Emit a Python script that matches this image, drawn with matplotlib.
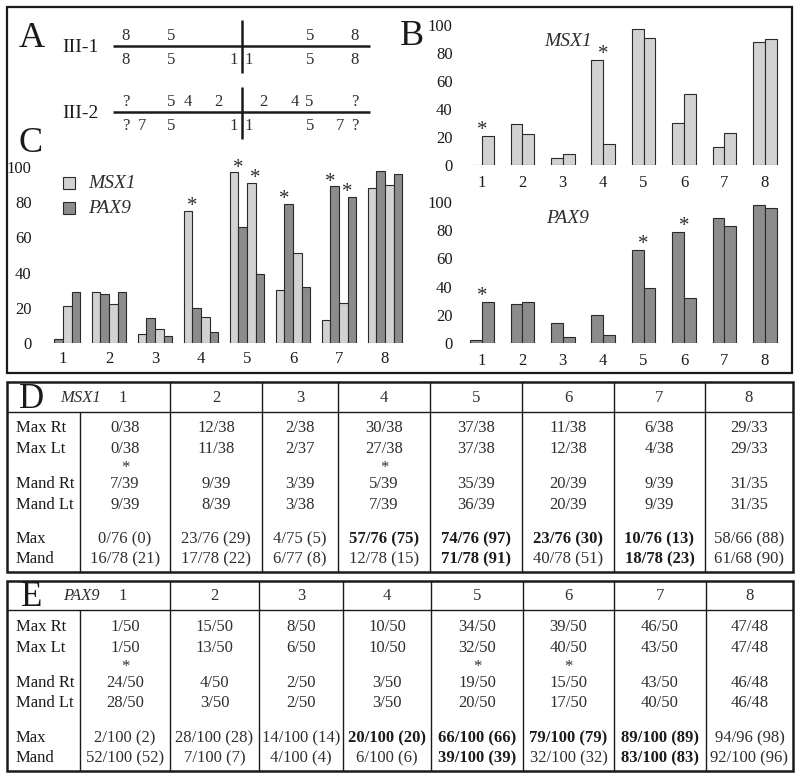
import matplotlib
matplotlib.use('Agg')
import matplotlib.pyplot as plt
from matplotlib.patches import Rectangle
import numpy as np

plt.rcParams['font.family'] = ['Liberation Serif', 'DejaVu Serif']

W, H = 800, 778

# ---------------- data ----------------
tooth_labels = ['1', '2', '3', '4', '5', '6', '7', '8']

msx1_max_pct = [0, 29, 5, 75, 97, 30, 13, 88]
msx1_mand_pct = [21, 22, 8, 15, 91, 51, 23, 90]
pax9_max_pct = [2, 28, 14, 20, 66, 79, 89, 98]
pax9_mand_pct = [29, 29, 4, 6, 39, 32, 83, 96]

c_star_pairs = [(4, 'max'), (5, 'max'), (5, 'mand'), (6, 'max'), (7, 'max'), (7, 'mand')]
b_msx1_stars = [1, 4]
b_pax9_stars = [1, 5, 6]

y_ticks = [0, 20, 40, 60, 80, 100]

# Panel A dental charts (label, upper-row entries, lower-row entries)
a_iii1_top = [('8', 126), ('5', 171), ('5', 310), ('8', 355)]
a_iii1_bot = [('8', 126), ('5', 171), ('1', 234), ('1', 249), ('5', 310), ('8', 355)]
a_iii2_top = [('?', 126), ('5', 171), ('4', 188), ('2', 218), ('2', 263), ('4', 295), ('5', 309), ('?', 355)]
a_iii2_bot = [('?', 126), ('7', 142), ('5', 171), ('1', 234), ('1', 249), ('5', 310), ('7', 340), ('?', 355)]

row_names = ['Max Rt', 'Max Lt', 'Mand Rt', 'Mand Lt', 'Max', 'Mand']

msx1_max_rt = ['0/38', '12/38', '2/38', '30/38', '37/38', '11/38', '6/38', '29/33']
msx1_max_lt = ['0/38', '11/38', '2/37', '27/38', '37/38', '12/38', '4/38', '29/33']
msx1_mand_rt = ['7/39', '9/39', '3/39', '5/39', '35/39', '20/39', '9/39', '31/35']
msx1_mand_lt = ['9/39', '8/39', '3/38', '7/39', '36/39', '20/39', '9/39', '31/35']
msx1_max = ['0/76 (0)', '23/76 (29)', '4/75 (5)', '57/76 (75)', '74/76 (97)', '23/76 (30)', '10/76 (13)', '58/66 (88)']
msx1_mand = ['16/78 (21)', '17/78 (22)', '6/77 (8)', '12/78 (15)', '71/78 (91)', '40/78 (51)', '18/78 (23)', '61/68 (90)']
msx1_bold_max = [4, 5, 6, 7]
msx1_bold_mand = [5, 7]
msx1_star_cols = [1, 4]

pax9_max_rt = ['1/50', '15/50', '8/50', '10/50', '34/50', '39/50', '46/50', '47/48']
pax9_max_lt = ['1/50', '13/50', '6/50', '10/50', '32/50', '40/50', '43/50', '47/48']
pax9_mand_rt = ['24/50', '4/50', '2/50', '3/50', '19/50', '15/50', '43/50', '46/48']
pax9_mand_lt = ['28/50', '3/50', '2/50', '3/50', '20/50', '17/50', '40/50', '46/48']
pax9_max = ['2/100 (2)', '28/100 (28)', '14/100 (14)', '20/100 (20)', '66/100 (66)', '79/100 (79)', '89/100 (89)', '94/96 (98)']
pax9_mand = ['52/100 (52)', '7/100 (7)', '4/100 (4)', '6/100 (6)', '39/100 (39)', '32/100 (32)', '83/100 (83)', '92/100 (96)']
pax9_bold_max = [4, 5, 6, 7]
pax9_bold_mand = [5, 7]
pax9_star_cols = [1, 5, 6]

LIGHT = '#d2d2d2'
DARK = '#8c8c8c'
EDGE = '#2a2a2a'
INK = '#1a1a1a'
TXT = '#2e2e2e'

fig = plt.figure(figsize=(W / 100, H / 100), dpi=100)
fig.patch.set_facecolor('white')

# overlay axes in pixel coordinates
ax0 = fig.add_axes([0, 0, 1, 1])
ax0.set_xlim(0, W)
ax0.set_ylim(H, 0)
ax0.axis('off')
ax0.patch.set_alpha(0)


def px_axes(x0, y0, x1, y1):
    a = fig.add_axes([x0 / W, 1 - y1 / H, (x1 - x0) / W, (y1 - y0) / H])
    a.patch.set_alpha(0)
    for s in a.spines.values():
        s.set_visible(False)
    return a


def hline(x0, x1, y, lw=1.0):
    ax0.plot([x0, x1], [y, y], color=INK, lw=lw, solid_capstyle='butt')


def vline(x, y0, y1, lw=1.0):
    ax0.plot([x, x], [y0, y1], color=INK, lw=lw, solid_capstyle='butt')


# ---------------- outer frame (A, B, C) ----------------
ax0.add_patch(Rectangle((7, 7), 785, 366, fill=False, ec=INK, lw=1.6))

# ---------------- Panel A ----------------
ax0.text(32, 38, 'A', fontsize=26, ha='center', va='center', color=INK)
for name, yl, top, bot, vy0, vy1 in [('III-1', 46, a_iii1_top, a_iii1_bot, 20, 73),
                                     ('III-2', 112, a_iii2_top, a_iii2_bot, 87, 139)]:
    ax0.text(80, yl + 1, name, fontsize=14, ha='center', va='center', color=INK)
    hline(113, 370, yl, lw=1.8)
    vline(242, vy0, vy1, lw=1.8)
    for t, x in top:
        ax0.text(x, yl - 10, t, fontsize=12, ha='center', va='center', color=TXT)
    for t, x in bot:
        ax0.text(x, yl + 14, t, fontsize=12, ha='center', va='center', color=TXT)

ax0.text(412, 36, 'B', fontsize=26, ha='center', va='center', color=INK)
ax0.text(31, 143, 'C', fontsize=26, ha='center', va='center', color=INK)

# ---------------- Panel C ----------------
axC = px_axes(40, 167, 410, 343)
xc = np.arange(len(tooth_labels))
wc = 0.185
series_c = [(msx1_max_pct, LIGHT, -1.5), (pax9_max_pct, DARK, -0.5),
            (msx1_mand_pct, LIGHT, 0.5), (pax9_mand_pct, DARK, 1.5)]
for vals, col, off in series_c:
    axC.bar(xc + off * wc, vals, width=wc, color=col, edgecolor=EDGE, linewidth=0.8)
for tooth, pair in c_star_pairs:
    i = tooth - 1
    if pair == 'max':
        xs, top = i - wc, max(msx1_max_pct[i], pax9_max_pct[i])
    else:
        xs, top = i + wc, max(msx1_mand_pct[i], pax9_mand_pct[i])
    axC.text(xs, top - 3, '*', fontsize=15, ha='center', va='bottom', color=TXT, clip_on=False)
axC.set_xlim((40 - 63) / 46, (410 - 63) / 46)
axC.set_ylim(0, 100)
axC.set_xticks(xc, tooth_labels)
axC.set_yticks(y_ticks)
axC.tick_params(axis='both', length=0, labelsize=12, colors=INK)
axC.tick_params(axis='y', pad=6)
axC.tick_params(axis='x', pad=6)

# legend of C
ax0.add_patch(Rectangle((63, 177), 12, 12, fc=LIGHT, ec=EDGE, lw=0.8))
ax0.add_patch(Rectangle((63, 202), 12, 12, fc=DARK, ec=EDGE, lw=0.8))
ax0.text(88, 183, 'MSX1', fontsize=14, style='italic', ha='left', va='center', color=TXT)
ax0.text(88, 208, 'PAX9', fontsize=14, style='italic', ha='left', va='center', color=TXT)

# ---------------- Panel B ----------------
wb = 0.29
for (y0, y1, v1, v2, col, stars, title) in [
        (25, 165, msx1_max_pct, msx1_mand_pct, LIGHT, b_msx1_stars, 'MSX1'),
        (202, 343, pax9_max_pct, pax9_mand_pct, DARK, b_pax9_stars, 'PAX9')]:
    axb = px_axes(465, y0, 790, y1)
    axb.bar(xc - wb / 2, v1, width=wb, color=col, edgecolor=EDGE, linewidth=0.8)
    axb.bar(xc + wb / 2, v2, width=wb, color=col, edgecolor=EDGE, linewidth=0.8)
    for tooth in stars:
        i = tooth - 1
        axb.text(i, max(v1[i], v2[i]) - 3, '*', fontsize=15, ha='center', va='bottom',
                 color=TXT, clip_on=False)
    axb.set_xlim((465 - 482) / 40.4, (790 - 482) / 40.4)
    axb.set_ylim(0, 100)
    axb.set_xticks(xc, tooth_labels)
    axb.set_yticks(y_ticks)
    axb.tick_params(axis='both', length=0, labelsize=12, colors=INK)
    axb.tick_params(axis='y', pad=9)
    axb.tick_params(axis='x', pad=7)
    axb.text(2.12, 88, title, fontsize=14, style='italic', ha='center', va='center', color=TXT)


# ---------------- Tables D and E ----------------
def draw_table(top, bottom, header_y, col_edges, letter, gene, rows, bold_max, bold_mand,
               star_cols, row_ys, star_y):
    ax0.add_patch(Rectangle((7, top), 786, bottom - top, fill=False, ec=INK, lw=1.8))
    hline(7, 793, header_y, lw=1.0)
    for xe in col_edges[1:-1]:
        vline(xe, top, bottom, lw=1.0)
    vline(col_edges[0], header_y, bottom, lw=1.0)
    hy = (top + header_y) / 2 + 1
    ax0.text(32, hy + 1, letter, fontsize=25, ha='center', va='center', color=INK)
    ax0.text(81, hy, gene, fontsize=12, style='italic', ha='center', va='center', color=TXT)
    centers = [(col_edges[j] + col_edges[j + 1]) / 2 for j in range(len(col_edges) - 1)]
    for j, c in enumerate(centers):
        ax0.text(c - (2 if j == 0 else 0), hy, tooth_labels[j], fontsize=12, ha='center',
                 va='center', color=TXT)
    for r, (name, vals) in enumerate(zip(row_names, rows)):
        y = row_ys[r]
        ax0.text(16, y, name, fontsize=12, ha='left', va='center', color=INK)
        for j, c in enumerate(centers):
            tooth = j + 1
            bold = (r == 4 and tooth in bold_max) or (r == 5 and tooth in bold_mand)
            ax0.text(c, y, vals[j], fontsize=12, ha='center', va='center',
                     fontweight='bold' if bold else 'normal',
                     color=INK if bold else TXT)
    for tooth in star_cols:
        ax0.text(centers[tooth - 1], star_y, '*', fontsize=12, ha='center', va='center', color=TXT)


draw_table(382, 572, 412, [80, 170, 262, 338, 430, 522, 614, 705, 793], 'D', 'MSX1',
           [msx1_max_rt, msx1_max_lt, msx1_mand_rt, msx1_mand_lt, msx1_max, msx1_mand],
           msx1_bold_max, msx1_bold_mand, msx1_star_cols,
           [428, 449, 484, 505, 539, 559], 468)

draw_table(581, 771, 610, [80, 170, 259, 343, 431, 523, 614, 706, 793], 'E', 'PAX9',
           [pax9_max_rt, pax9_max_lt, pax9_mand_rt, pax9_mand_lt, pax9_max, pax9_mand],
           pax9_bold_max, pax9_bold_mand, pax9_star_cols,
           [627, 648, 683, 703, 738, 758], 667)

fig.savefig('out.png', dpi=100, facecolor='white')
